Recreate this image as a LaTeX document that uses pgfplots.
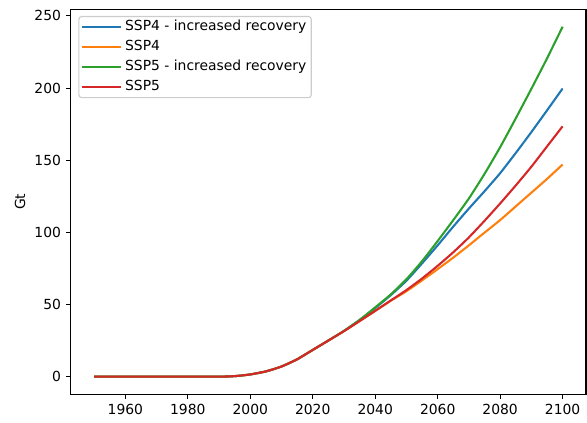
\documentclass[border=0pt]{standalone}
\usepackage{fontspec}
\setmainfont{DejaVu Sans}
\usepackage{pgfplots}
\pgfplotsset{compat=1.18}
\usepackage{pgfplotstable}
\usetikzlibrary{calc}

\definecolor{tabblue}{HTML}{1F77B4}
\definecolor{taborange}{HTML}{FF7F0E}
\definecolor{tabgreen}{HTML}{2CA02C}
\definecolor{tabred}{HTML}{D62728}
\definecolor{legframe}{HTML}{CCCCCC}

% cumulative values in Gt
\pgfplotstableread{
year ssp4inc ssp4  ssp5inc ssp5
1950 0      0      0      0
1960 0      0      0      0
1970 0      0      0      0
1980 0      0      0      0
1990 0      0      0      0
1993 0.1    0.1    0.1    0.1
1996 0.5    0.5    0.5    0.5
2000 1.5    1.5    1.5    1.5
2005 3.6    3.6    3.6    3.6
2010 7.0    7.0    7.0    7.0
2015 12.0   12.0   12.0   12.0
2020 18.5   18.5   18.5   18.5
2025 25.0   25.0   25.0   25.0
2030 31.7   31.5   31.7   31.5
2035 39.2   38.5   39.3   38.5
2040 47.5   45.5   48.0   45.6
2045 56.5   52.6   57.0   52.8
2050 66.5   59.2   67.5   60.0
2055 78.5   66.7   80.0   68.0
2060 91.0   74.5   94.0   76.8
2065 104.0  82.5   108.5  86.2
2070 116.5  91.0   123.5  96.5
2075 128.5  99.8   140.5  108.0
2080 141.0  108.5  159.0  120.0
2085 155.0  118.0  179.0  132.5
2090 169.5  127.5  199.5  145.5
2095 184.5  137.0  220.5  159.5
2100 199.7  147.0  242.5  173.5
}\gtdata

\begin{document}
\begin{tikzpicture}
\begin{axis}[
    scale only axis,
    width=371pt, height=277pt,
    xmin=1942.5, xmax=2107.5,
    ymin=-12.1, ymax=254.6,
    xtick={1960,1980,...,2100},
    ytick={0,50,...,250},
    tick pos=left,
    tick align=outside,
    major tick length=3.5pt,
    tick style={line width=0.8pt, black},
    axis line style={line width=0.8pt},
    /pgf/number format/1000 sep={},
    /pgf/number format/assume math mode=true,
    ticklabel style={font=\fontsize{10}{12}\selectfont},
    ylabel={Gt},
    ylabel style={at={(axis description cs:-0.0984,0.5)}, anchor=center,
        font=\fontsize{10}{12}\selectfont},
    legend cell align=left,
    legend style={at={(0,1)}, anchor=north west, xshift=5.5pt, yshift=-4.8pt,
        draw=legframe, line width=0.8pt, rounded corners=2pt,
        font=\fontsize{10}{12}\selectfont,
        inner xsep=1.5pt, inner ysep=2.5pt,
        row sep=4.6pt,
        nodes={inner ysep=0pt, text height=7.6pt, text depth=2.3pt}},
    legend image code/.code={%
        \path (-0.8pt,0pt) -- (27.5pt,0pt);
        \draw[#1, line width=1.5pt] (0pt,0pt) -- (21pt,0pt);},
    every axis plot/.append style={line width=1.5pt, smooth, tension=0.35},
]
\addplot[tabblue]   table[x=year, y=ssp4inc] {\gtdata};
\addlegendentry{SSP4 - increased recovery}
\addplot[taborange] table[x=year, y=ssp4] {\gtdata};
\addlegendentry{SSP4}
\addplot[tabgreen]  table[x=year, y=ssp5inc] {\gtdata};
\addlegendentry{SSP5 - increased recovery\hspace{4pt}}
\addplot[tabred]    table[x=year, y=ssp5] {\gtdata};
\addlegendentry{SSP5}
\end{axis}
\pgfresetboundingbox
\path ($(current axis.south west)+(-50.9pt,-20.5pt)$) rectangle ($(current axis.north east)+(0.7pt,6.7pt)$);
\end{tikzpicture}
\end{document}
